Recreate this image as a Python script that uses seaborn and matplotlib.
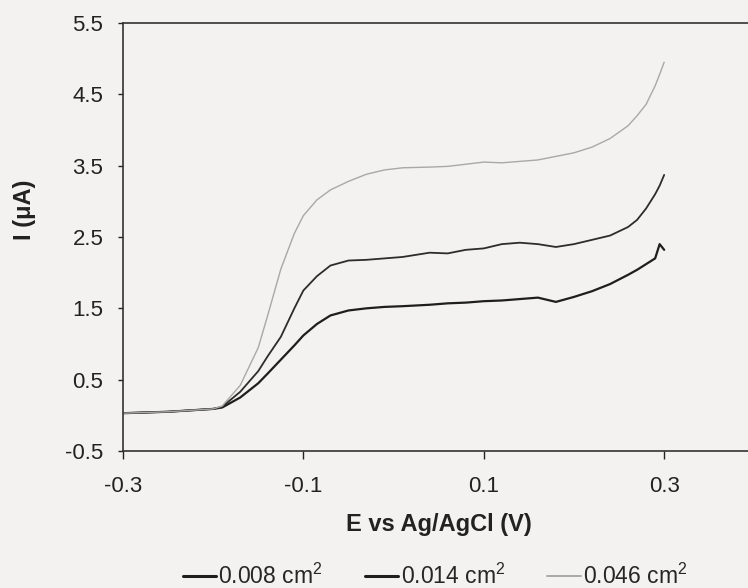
import pandas as pd
import numpy as np
import matplotlib
matplotlib.use('Agg')
import matplotlib.pyplot as plt
import seaborn as sns

sns.set_style('ticks')
plt.rcParams['font.family'] = ['Liberation Sans', 'DejaVu Sans']
plt.rcParams['mathtext.default'] = 'regular'

# Potential grid (V vs Ag/AgCl) and currents (uA)
potential = [-0.30, -0.25, -0.20, -0.19, -0.17, -0.15, -0.14, -0.125, -0.11, -0.10,
             -0.085, -0.07, -0.05, -0.03, -0.01, 0.01, 0.04, 0.06, 0.08, 0.10,
             0.12, 0.14, 0.16, 0.18, 0.20, 0.22, 0.24, 0.26, 0.27, 0.28,
             0.29, 0.295, 0.30]

i_008 = [0.03, 0.05, 0.09, 0.11, 0.25, 0.45, 0.58, 0.78, 0.98, 1.12,
         1.28, 1.40, 1.47, 1.50, 1.52, 1.53, 1.55, 1.57, 1.58, 1.60,
         1.61, 1.63, 1.65, 1.59, 1.66, 1.74, 1.84, 1.97, 2.04, 2.12,
         2.20, 2.40, 2.32]

i_014 = [0.03, 0.05, 0.09, 0.12, 0.33, 0.62, 0.82, 1.10, 1.50, 1.75,
         1.95, 2.10, 2.17, 2.18, 2.20, 2.22, 2.28, 2.27, 2.32, 2.34,
         2.40, 2.42, 2.40, 2.36, 2.40, 2.46, 2.52, 2.64, 2.74, 2.90,
         3.10, 3.22, 3.37]

i_046 = [0.03, 0.05, 0.09, 0.13, 0.42, 0.95, 1.38, 2.05, 2.55, 2.80,
         3.02, 3.16, 3.28, 3.38, 3.44, 3.47, 3.48, 3.49, 3.52, 3.55,
         3.54, 3.56, 3.58, 3.63, 3.68, 3.76, 3.88, 4.06, 4.20, 4.36,
         4.62, 4.78, 4.95]

areas = ['0.008 cm$^{2}$', '0.014 cm$^{2}$', '0.046 cm$^{2}$']
x_ticks = [-0.3, -0.1, 0.1, 0.3]
y_ticks = [-0.5, 0.5, 1.5, 2.5, 3.5, 4.5, 5.5]

df = pd.concat([
    pd.DataFrame({'E': potential, 'I': vals, 'area': name})
    for name, vals in zip(areas, [i_008, i_014, i_046])
])

line_colors = ['#1e1e1e', '#2c2c2c', '#a8a8a8']
colors = dict(zip(areas, line_colors))
widths = [1.6, 1.3, 1.0]

bg = '#f3f2f0'
fig = plt.figure(figsize=(7.48, 5.88), dpi=100, facecolor=bg)
ax = fig.add_axes([0.1644, 0.233, 0.8441, 0.7279])
ax.set_facecolor(bg)

sns.lineplot(data=df, x='E', y='I', hue='area', palette=colors, sort=False,
             estimator=None, ax=ax, legend=False)
for line, lw in zip(ax.lines, widths):
    line.set_linewidth(lw)

ax.set_xlim(-0.3, 0.4)
ax.set_ylim(-0.5, 5.5)
ax.set_xticks(x_ticks)
ax.set_xticklabels([f'{t:.1f}' for t in x_ticks])
ax.set_yticks(y_ticks)
ax.set_yticklabels([f'{t:.1f}' for t in y_ticks])
ax.tick_params(axis='x', length=5.5, width=1, pad=12.5, labelsize=16, colors='#222222')
ax.tick_params(axis='y', length=3.6, width=1, pad=10.5, labelsize=16, colors='#222222')

for side in ['left', 'bottom', 'top', 'right']:
    ax.spines[side].set_visible(True)
    ax.spines[side].set_color('#333333')
    ax.spines[side].set_linewidth(1.2)

ax.set_xlabel('E vs Ag/AgCl (V)', fontsize=17, fontweight='bold', color='#222222')
ax.set_ylabel('I (\u03bcA)', fontsize=17, fontweight='bold', color='#222222')
ax.xaxis.set_label_coords(0.5, -0.145)
ax.yaxis.set_label_coords(-0.138, 0.563)

handles = [plt.Line2D([], [], color=c, lw=w) for c, w in
           zip(['#1e1e1e', '#1e1e1e', '#a8a8a8'], [2.2, 2.2, 1.4])]
fig.legend(handles, areas, loc='center', bbox_to_anchor=(0.5816, 0.0195),
           ncol=3, frameon=False, fontsize=16.5, handlelength=1.45,
           handletextpad=0.1, columnspacing=1.85, borderpad=0.1)

fig.savefig('out.png', dpi=100, facecolor=bg)
